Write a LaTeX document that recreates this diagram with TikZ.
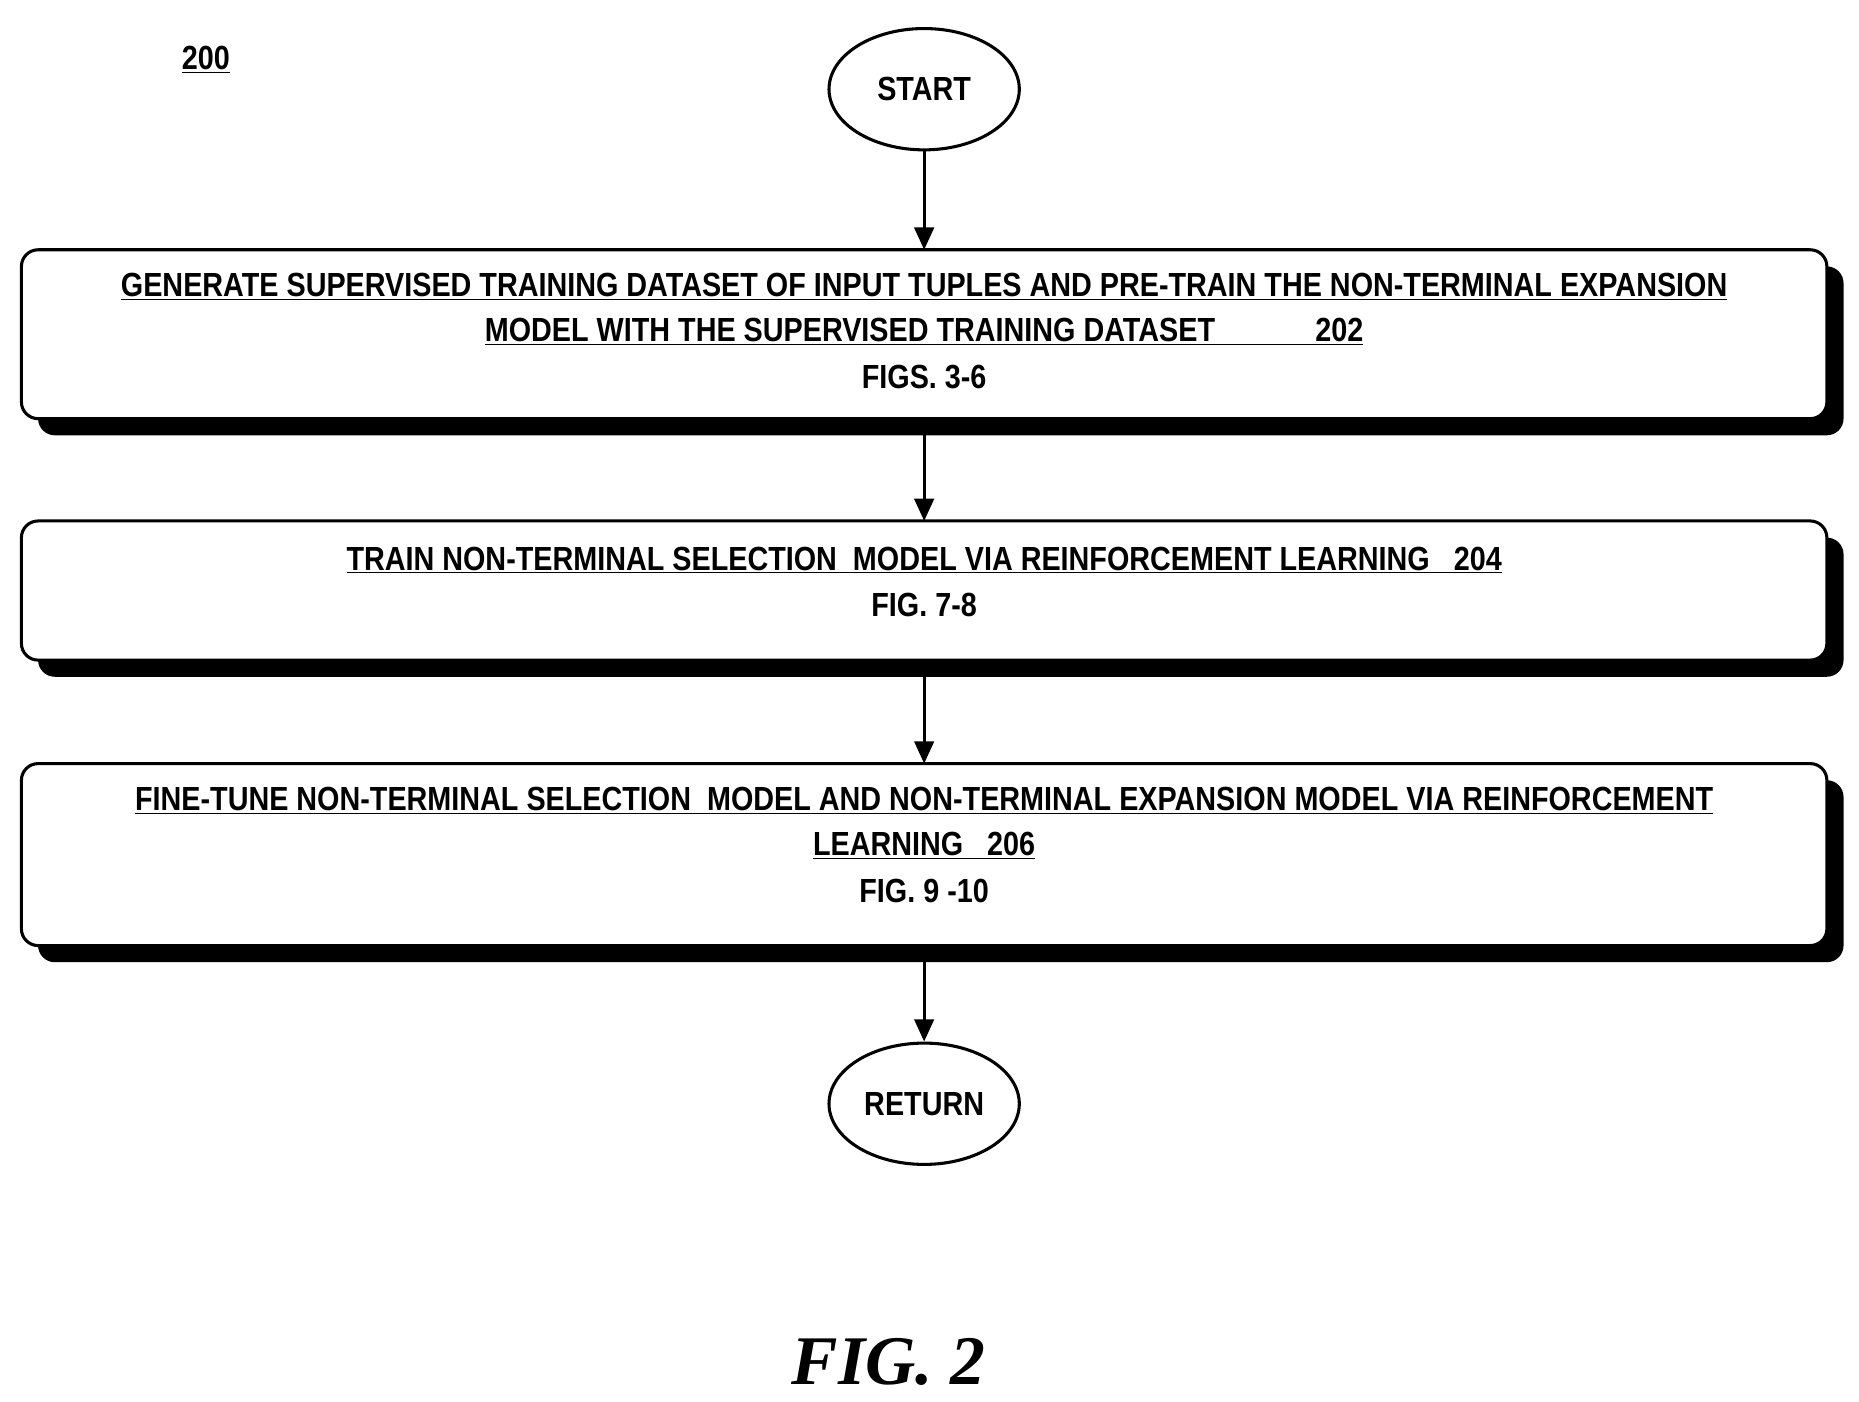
\documentclass[tikz,border=0pt]{standalone}
\usepackage{fontspec}
\usetikzlibrary{shapes.geometric,arrows.meta}
\setmainfont{Liberation Sans}[FakeStretch=0.86]
\newfontfamily\figfont{Liberation Serif}
\begin{document}
\begin{tikzpicture}[x=0.03cm,y=-0.03cm,
  box/.style={draw,line width=2.2pt,rounded corners=12pt,fill=white},
  shadow/.style={fill=black,rounded corners=12pt},
  term/.style={draw,ellipse,line width=2.2pt,minimum width=160*0.03cm,minimum height=102*0.03cm,font=\fontsize{24}{28}\selectfont\bfseries},
  txt/.style={font=\fontsize{24}{28}\selectfont\bfseries,inner sep=0pt},
  arr/.style={line width=2.2pt,-{Triangle[length=16pt,width=14pt]}}]
\useasboundingbox (0,0) rectangle (1563,1178);
\node[txt] (n200) at (173,50) {\underline{200}};
\node[term] (start) at (777,75) {START};
% box 1
\fill[shadow] (32,224) rectangle (1550,366);
\draw[box] (18,210) rectangle (1536,352);
\coordinate (b1t) at (777,210); \coordinate (b1b) at (777,366);
\node[txt] (l11) at (777,241) {\underline{GENERATE SUPERVISED TRAINING DATASET OF INPUT TUPLES AND PRE-TRAIN THE NON-TERMINAL EXPANSION}};
\node[txt] (l12) at (777,279) {\underline{MODEL WITH THE SUPERVISED TRAINING DATASET\hspace{1.5em}\hspace{1.5em}202}};
\node[txt] (l13) at (777,317) {FIGS. 3-6};
% box 2
\fill[shadow] (32,452) rectangle (1550,569);
\draw[box] (18,438) rectangle (1536,555);
\coordinate (b2t) at (777,438); \coordinate (b2b) at (777,569);
\node[txt] (l21) at (777,471) {\underline{TRAIN NON-TERMINAL SELECTION\ \ MODEL VIA REINFORCEMENT LEARNING\ \ \ 204}};
\node[txt] (l22) at (777,509) {FIG. 7-8};
% box 3
\fill[shadow] (32,656) rectangle (1550,809);
\draw[box] (18,642) rectangle (1536,795);
\coordinate (b3t) at (777,642); \coordinate (b3b) at (777,809);
\node[txt] (l31) at (777,673) {\underline{FINE-TUNE NON-TERMINAL SELECTION\ \ MODEL AND NON-TERMINAL EXPANSION MODEL VIA REINFORCEMENT}};
\node[txt] (l32) at (777,711) {\underline{LEARNING\ \ \ 206}};
\node[txt] (l33) at (777,749) {FIG. 9 -10};
\node[term] (ret) at (777,928) {RETURN};
\draw[arr] (start) -- (b1t);
\draw[arr] (b1b) -- (b2t);
\draw[arr] (b2b) -- (b3t);
\draw[arr] (b3b) -- (ret);
\node[inner sep=0pt,font=\fontsize{50}{56}\selectfont\figfont\bfseries\itshape] (fig) at (747,1145) {FIG. 2};
\end{tikzpicture}
\end{document}
